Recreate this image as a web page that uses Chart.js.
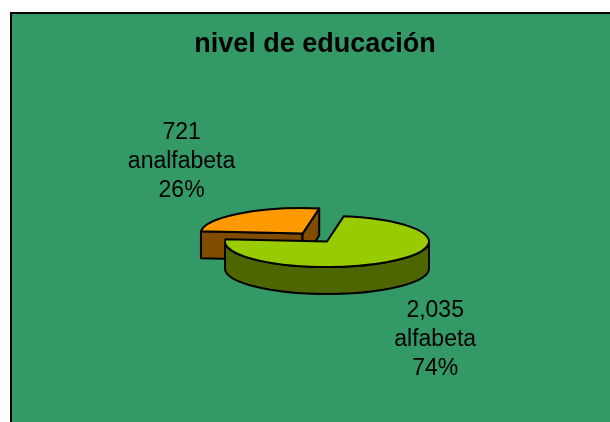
<!DOCTYPE html>
<html>
<head>
<meta charset="utf-8">
<script src="https://cdn.jsdelivr.net/npm/chart.js@4.4.0/dist/chart.umd.min.js"></script>
<style>
  html, body { margin: 0; padding: 0; background: #fff; overflow: hidden; }
  .marco { position: absolute; left: 10px; top: 12px; width: 640px; height: 460px;
           background: #339966; border-left: 2px solid #000; border-top: 2px solid #000; }
  #grafico { position: absolute; left: 0; top: 0; }
</style>
</head>
<body>
<div class="marco"></div>
<canvas id="grafico" width="610" height="422"></canvas>
<script>
const titulo = 'nivel de educación';
const categorias = ['alfabeta', 'analfabeta'];
const valores = [2035, 721];
const coloresCara = ['#99CC00', '#FF9900'];
const coloresLado = ['#4D6600', '#804C00'];
const separacion = [0, 40];

// aspecto 3D: aplastamiento vertical y grosor del pastel
const INCLINACION = 0.25;
const PROFUNDIDAD = 27;
const FUENTE = '"Liberation Sans", Arial, sans-serif';

function geometria(arc) {
    const p = arc.getProps(['x', 'y', 'startAngle', 'endAngle', 'outerRadius'], true);
    const mid = (p.startAngle + p.endAngle) / 2;
    const off = arc.options.offset || 0;
    return {
        a0: p.startAngle, a1: p.endAngle, r: p.outerRadius, mid, off,
        x: p.x, y: p.y,
        cx: p.x + Math.cos(mid) * off,
        cy: p.y + Math.sin(mid) * off * INCLINACION
    };
}

function pared(ctx, t, a) {
    const x = t.cx + t.r * Math.cos(a);
    const y = t.cy + t.r * INCLINACION * Math.sin(a);
    ctx.beginPath();
    ctx.moveTo(t.cx, t.cy);
    ctx.lineTo(x, y);
    ctx.lineTo(x, y + PROFUNDIDAD);
    ctx.lineTo(t.cx, t.cy + PROFUNDIDAD);
    ctx.closePath();
    ctx.fill();
    ctx.stroke();
}

function dibujarTrozo(ctx, t) {
    const ry = t.r * INCLINACION;
    ctx.fillStyle = coloresLado[t.i];
    if (Math.cos(t.a0) < 0) pared(ctx, t, t.a0);
    if (Math.cos(t.a1) > 0) pared(ctx, t, t.a1);
    // pared curva, solo la mitad delantera
    for (let n = -1; n <= 2; n++) {
        const b0 = Math.max(t.a0, n * 2 * Math.PI);
        const b1 = Math.min(t.a1, n * 2 * Math.PI + Math.PI);
        if (b1 <= b0) continue;
        ctx.beginPath();
        ctx.ellipse(t.cx, t.cy, t.r, ry, 0, b0, b1);
        ctx.ellipse(t.cx, t.cy + PROFUNDIDAD, t.r, ry, 0, b1, b0, true);
        ctx.closePath();
        ctx.fill();
        ctx.stroke();
    }
    ctx.fillStyle = coloresCara[t.i];
    ctx.beginPath();
    ctx.moveTo(t.cx, t.cy);
    ctx.ellipse(t.cx, t.cy, t.r, ry, 0, t.a0, t.a1);
    ctx.closePath();
    ctx.fill();
    ctx.stroke();
}

const pastel3d = {
    id: 'pastel3d',
    beforeDatasetsDraw(chart) {
        const ctx = chart.ctx;
        const trozos = chart.getDatasetMeta(0).data.map((arc, i) => Object.assign(geometria(arc), { i }));
        trozos.sort((a, b) => Math.sin(a.mid) - Math.sin(b.mid));
        ctx.save();
        ctx.lineWidth = 2;
        ctx.lineJoin = 'round';
        ctx.strokeStyle = '#000';
        trozos.forEach(t => dibujarTrozo(ctx, t));
        ctx.restore();
        return false;
    },
    afterDraw(chart) {
        const ctx = chart.ctx;
        const total = valores.reduce((s, v) => s + v, 0);
        const alto = 29;
        ctx.save();
        ctx.fillStyle = '#000';
        ctx.textAlign = 'center';
        ctx.textBaseline = 'middle';
        ctx.font = '23px ' + FUENTE;
        chart.getDatasetMeta(0).data.forEach((arc, i) => {
            const t = geometria(arc);
            const cos = Math.cos(t.mid), sin = Math.sin(t.mid);
            const ax = t.x + cos * (t.off + t.r + 8);
            const ay = t.y + sin * ((t.off + t.r) * INCLINACION + 10) + (sin > 0 ? PROFUNDIDAD : 0);
            const lineas = [
                valores[i].toLocaleString('en-US'),
                categorias[i],
                Math.round(valores[i] / total * 100) + '%'
            ];
            const w = Math.max(...lineas.map(l => ctx.measureText(l).width));
            const bx = ax + Math.sign(cos) * w / 2;
            const by = ay + Math.sign(sin) * lineas.length * alto / 2;
            lineas.forEach((l, k) => ctx.fillText(l, bx, by + (k - (lineas.length - 1) / 2) * alto));
        });
        ctx.font = 'bold 27px ' + FUENTE;
        ctx.fillText(titulo, 315, 45);
        ctx.restore();
    }
};

new Chart(document.getElementById('grafico'), {
    type: 'pie',
    data: {
        labels: categorias,
        datasets: [{
            data: valores,
            backgroundColor: coloresCara,
            offset: separacion,
            radius: 102,
            borderWidth: 0
        }]
    },
    options: {
        responsive: false,
        animation: false,
        rotation: 9.4,
        layout: { padding: { left: 44, right: 0, top: 100, bottom: 39 } },
        plugins: {
            legend: { display: false },
            tooltip: { enabled: false },
            title: { display: false }
        }
    },
    plugins: [pastel3d]
});
</script>
</body>
</html>
